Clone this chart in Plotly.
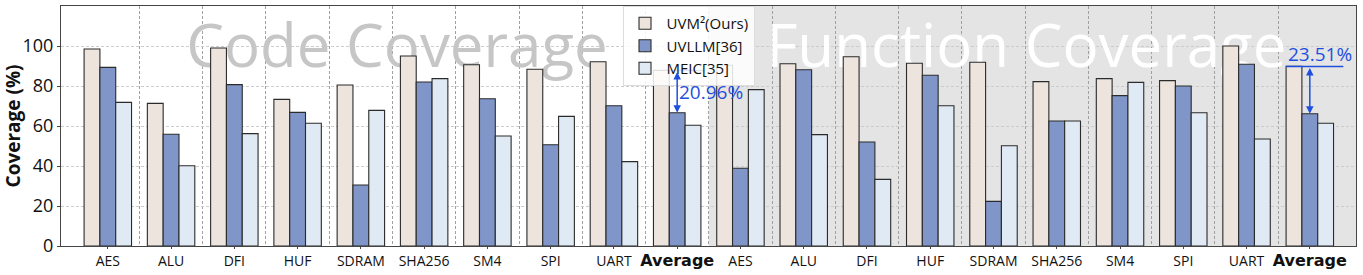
import plotly.graph_objects as go

categories = ["AES", "ALU", "DFI", "HUF", "SDRAM", "SHA256", "SM4", "SPI", "UART", "Average",
              "AES", "ALU", "DFI", "HUF", "SDRAM", "SHA256", "SM4", "SPI", "UART", "Average"]
uvm2 = [98.5, 71.3, 99.0, 73.3, 80.5, 95.0, 90.6, 88.4, 92.1, 87.8,
        90.4, 91.1, 94.6, 91.4, 91.9, 82.2, 83.7, 82.7, 100.0, 89.8]
uvllm = [89.3, 55.9, 80.7, 66.8, 30.5, 82.0, 73.6, 50.6, 70.1, 66.6,
         38.9, 88.1, 52.0, 85.4, 22.3, 62.5, 75.2, 80.0, 90.9, 66.1]
meic = [71.8, 40.1, 56.2, 61.4, 67.8, 83.7, 55.0, 64.8, 42.2, 60.4,
        78.2, 55.7, 33.3, 70.1, 50.1, 62.5, 81.8, 66.6, 53.5, 61.4]
series_names = ["UVM²(Ours)", "UVLLM[36]", "MEIC[35]"]
series_colors = ["#ede4de", "#8196c8", "#e0eaf4"]
gain_labels = ["20.96%", "23.51%"]
y_ticks = [0, 20, 40, 60, 80, 100]
section_titles = ["Code Coverage", "Function Coverage"]
section_colors = ["#c6c6c6", "#ffffff"]

xs = list(range(len(categories)))
n_half = len(categories) // 2
x_lo, x_hi = -0.74, len(categories) - 1 + 0.73
y_range = [0, 120]

fig = go.Figure()

# section watermark titles, drawn in the base subplot so bars cover them
fig.add_trace(go.Scatter(x=[(n_half - 1) / 2 + 0.07, n_half + (n_half - 1) / 2 + 0.02], y=[96.8, 96.8],
                         mode="text", text=section_titles, textposition="middle center",
                         textfont=dict(size=60, color=section_colors, family="Open Sans"),
                         showlegend=False, hoverinfo="skip", cliponaxis=False,
                         xaxis="x", yaxis="y"))

for name, vals, col in zip(series_names, [uvm2, uvllm, meic], series_colors):
    fig.add_trace(go.Bar(x=xs, y=vals, name=name, xaxis="x2", yaxis="y2",
                         marker=dict(color=col, line=dict(color="#2b2b2b", width=1.1))))

ticktext = [f"<b><span style='font-size:16px;font-family:DejaVu Sans'>{c}</span></b>" if c == "Average" else c
            for c in categories]

# shaded right half
fig.add_shape(type="rect", xref="x", yref="paper", x0=n_half - 0.5, x1=x_hi, y0=0, y1=1,
              fillcolor="#e4e4e4", line=dict(width=0), layer="below")

blue = "#1f4fe0"
avg_idx = [i for i, c in enumerate(categories) if c == "Average"]
# first gain annotation
i0 = avg_idx[0]
fig.add_shape(type="line", xref="x", yref="y", x0=i0 - 0.125, x1=i0 + 0.42,
              y0=uvm2[i0], y1=uvm2[i0], line=dict(color=blue, width=1.5), layer="above")
fig.add_annotation(x=i0, y=uvllm[i0], ax=i0, ay=uvm2[i0], xref="x", yref="y", axref="x", ayref="y",
                   text="", showarrow=True, arrowhead=2, startarrowhead=2, arrowside="end+start",
                   arrowsize=1, arrowwidth=1.5, arrowcolor=blue, standoff=0, startstandoff=0)
fig.add_annotation(x=i0 + 0.0, y=(uvm2[i0] + uvllm[i0]) / 2 - 0.3, xref="x", yref="y", text=gain_labels[0],
                   showarrow=False, xanchor="left", yanchor="middle",
                   font=dict(size=19, color=blue, family="Open Sans"))
# second gain annotation
i1 = avg_idx[1]
fig.add_shape(type="line", xref="x", yref="y", x0=i1 - 0.375, x1=i1 + 0.53,
              y0=uvm2[i1], y1=uvm2[i1], line=dict(color=blue, width=1.5), layer="above")
fig.add_annotation(x=i1, y=uvllm[i1], ax=i1, ay=uvm2[i1], xref="x", yref="y", axref="x", ayref="y",
                   text="", showarrow=True, arrowhead=2, startarrowhead=2, arrowside="end+start",
                   arrowsize=1, arrowwidth=1.5, arrowcolor=blue, standoff=0, startstandoff=0)
fig.add_annotation(x=i1 - 0.37, y=uvm2[i1] - 1.2, xref="x", yref="y", text=gain_labels[1],
                   showarrow=False, xanchor="left", yanchor="bottom",
                   font=dict(size=19, color=blue, family="Open Sans"))

fig.update_layout(
    width=1363, height=275,
    margin=dict(l=60, r=7, t=5, b=27),
    paper_bgcolor="white", plot_bgcolor="white",
    barmode="group", bargap=0.25, bargroupgap=0,
    font=dict(family="Open Sans", color="#111111"),
    legend=dict(x=0.4336, y=1, xanchor="left", yanchor="top",
                bgcolor="rgba(255,255,255,0.85)", bordercolor="#dddddd", borderwidth=1,
                font=dict(size=15, family="Open Sans"), tracegroupgap=0, itemwidth=33),
    xaxis=dict(range=[x_lo, x_hi], tickvals=xs, ticktext=ticktext, tickfont=dict(size=14),
               showgrid=False, showline=True, linecolor="#444444", mirror=True, linewidth=1,
               ticks="outside", ticklen=2, tickcolor="#444444", zeroline=False,
               minor=dict(tickvals=[i + 0.5 for i in xs[:-1]], showgrid=True, gridcolor="#a0a0a0",
                          griddash="3px,2px", gridwidth=1, ticks="")),
    yaxis=dict(range=y_range, tickvals=y_ticks, tickfont=dict(size=18),
               showgrid=True, gridcolor="#cccccc", griddash="3px,2px", gridwidth=1,
               showline=True, linecolor="#444444", mirror=True, linewidth=1,
               ticks="outside", ticklen=3, tickcolor="#444444", zeroline=False,
               title=dict(text="<b>Coverage (%)</b>", font=dict(size=19), standoff=4)),
    xaxis2=dict(overlaying="x", range=[x_lo, x_hi], visible=False, showgrid=False, zeroline=False),
    yaxis2=dict(overlaying="y", range=y_range, visible=False, showgrid=False, zeroline=False),
)

fig.write_html("out.html", config={"displayModeBar": False},
               post_script="document.body.style.margin='0';")
